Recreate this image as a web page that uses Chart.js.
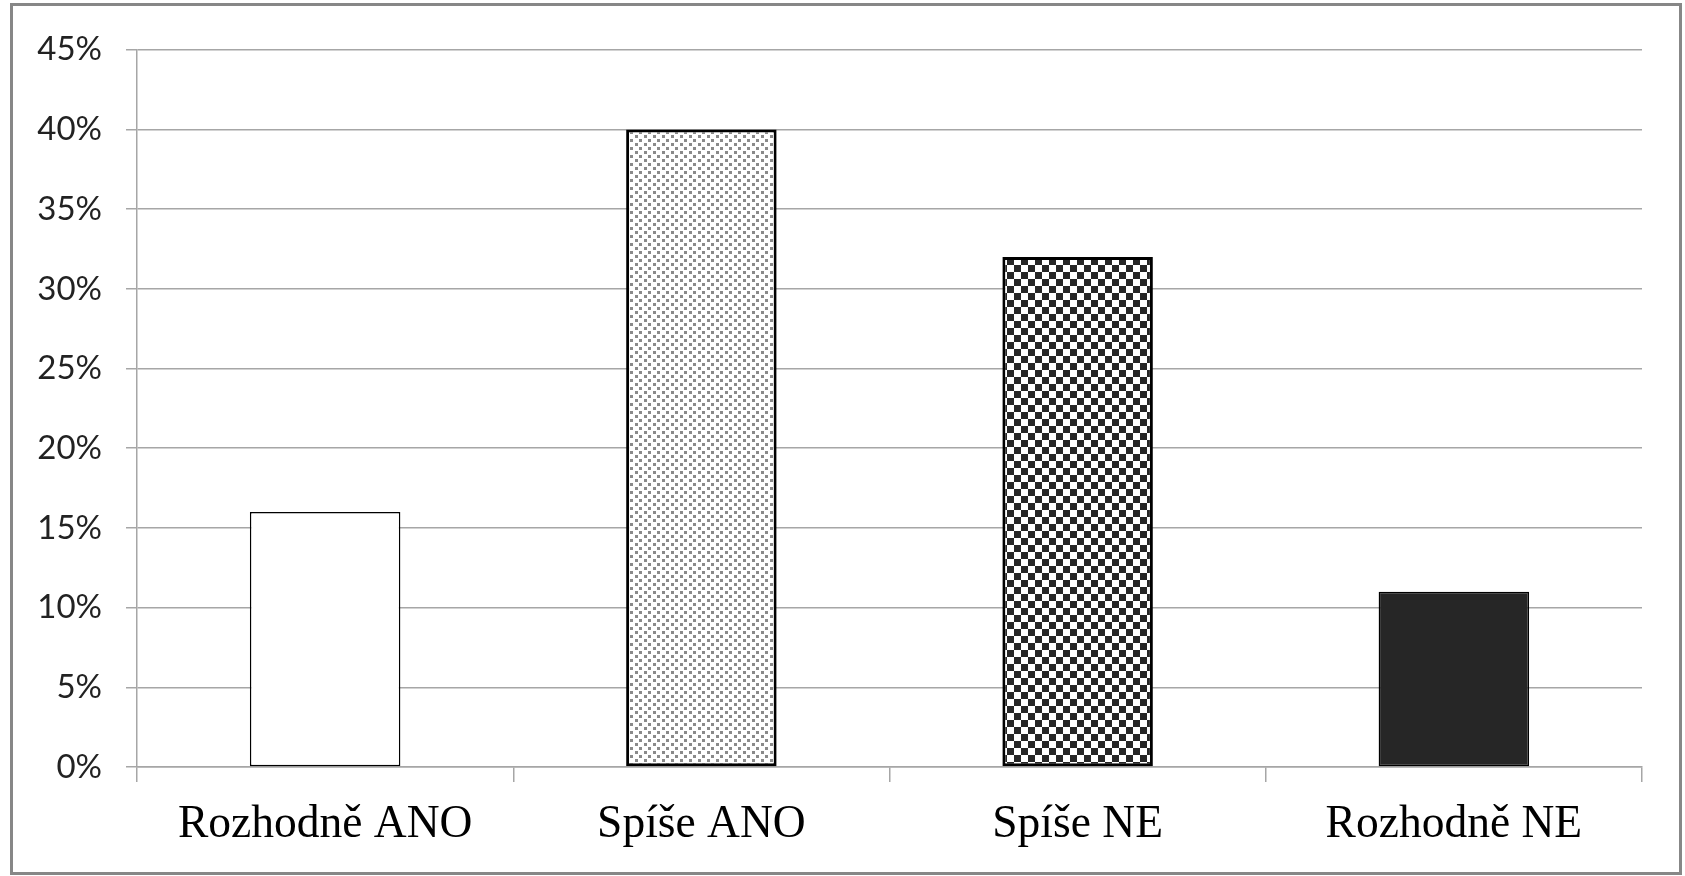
<!DOCTYPE html>
<html>
<head>
<meta charset="utf-8">
<script src="https://cdn.jsdelivr.net/npm/chart.js@4.4.0/dist/chart.umd.min.js"></script>
<style>
    body { margin: 0; background: #fff; }
    #frame {
        position: absolute; left: 10px; top: 3px;
        width: 1672px; height: 872px;
        border: 3px solid #878787; box-sizing: border-box;
    }
    #chart { display: block; }
</style>
</head>
<body>
<div id="frame"><canvas id="chart" width="1666" height="866"></canvas></div>
<script>
const categorias = ['Rozhodně ANO', 'Spíše ANO', 'Spíše NE', 'Rozhodně NE'];
const valores = [16, 40, 32, 11];
const bordes = [1.5, 3, 3, 1.5];

// Patrones de relleno tipo Excel
function patronPuntos() {
    const c = document.createElement('canvas');
    c.width = 9; c.height = 8;
    const ctx = c.getContext('2d');
    ctx.fillStyle = '#ffffff';
    ctx.fillRect(0, 0, 9, 8);
    ctx.fillStyle = '#8a8a8a';
    ctx.fillRect(1, 1, 3, 3);
    ctx.fillRect(5, 5, 3, 3);
    return ctx.createPattern(c, 'repeat');
}

function patronDamero() {
    const c = document.createElement('canvas');
    c.width = 14; c.height = 14;
    const ctx = c.getContext('2d');
    ctx.fillStyle = '#ffffff';
    ctx.fillRect(0, 0, 14, 14);
    ctx.fillStyle = '#262626';
    ctx.fillRect(0, 0, 7, 7);
    ctx.fillRect(7, 7, 7, 7);
    return ctx.createPattern(c, 'repeat');
}

const rellenos = ['#ffffff', patronPuntos(), patronDamero(), '#262626'];

new Chart(document.getElementById('chart'), {
    type: 'bar',
    data: {
        labels: categorias,
        datasets: [{
            data: valores,
            backgroundColor: rellenos,
            borderColor: '#000000',
            borderWidth: bordes,
            borderSkipped: false,
            categoryPercentage: 1,
            barPercentage: 0.4
        }]
    },
    options: {
        responsive: false,
        animation: false,
        layout: { padding: { top: 43.5, right: 37, left: 0, bottom: 0 } },
        plugins: {
            legend: { display: false },
            tooltip: { enabled: false }
        },
        scales: {
            y: {
                min: 0,
                max: 45,
                ticks: {
                    stepSize: 5,
                    callback: v => v + '%',
                    color: '#222',
                    padding: 24,
                    font: { family: 'Lato', size: 33 }
                },
                grid: { color: '#a6a6a6', lineWidth: 1.5, tickLength: 11 },
                border: { color: '#a6a6a6', width: 1.5 },
                afterFit: s => { s.width = 124; }
            },
            x: {
                ticks: {
                    color: '#000',
                    padding: 16,
                    font: { family: 'Liberation Serif', size: 45.5 }
                },
                grid: { offset: true, drawOnChartArea: false, color: '#a6a6a6', lineWidth: 1.5, tickLength: 15 },
                border: { color: '#a6a6a6', width: 1.5 },
                afterFit: s => { s.height = 105; }
            }
        }
    }
});
</script>
</body>
</html>
